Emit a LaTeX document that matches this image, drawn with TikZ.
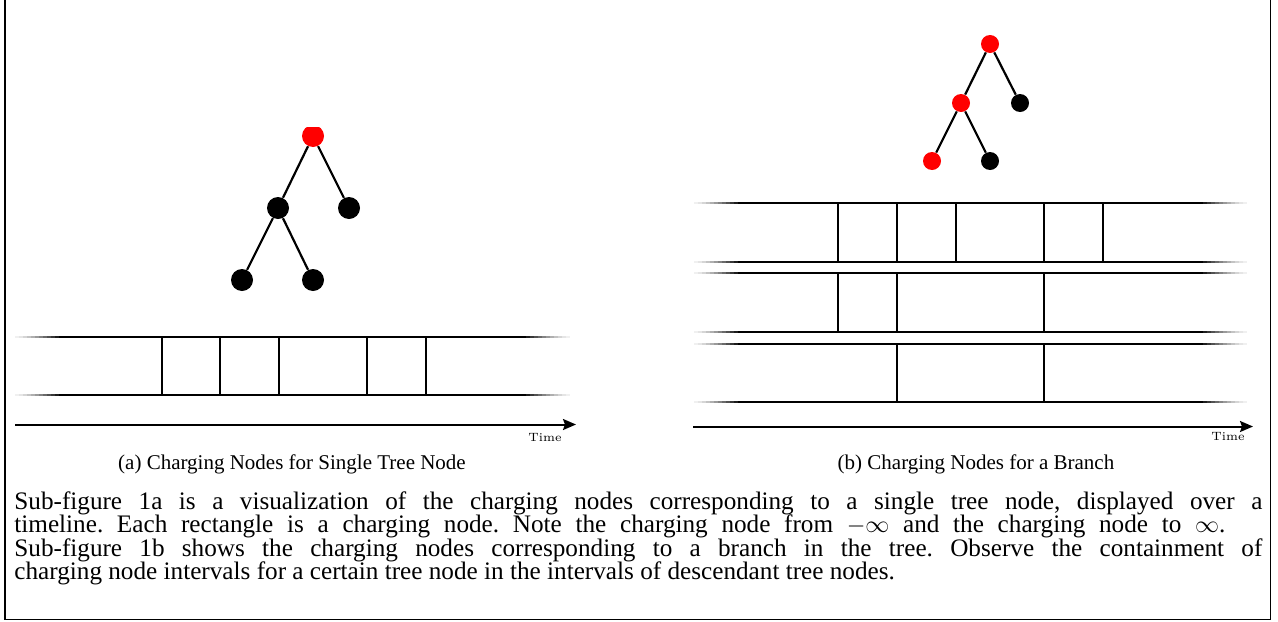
\documentclass[tikz,border=0pt]{standalone}
\usepackage{fontspec}
\setmainfont{Liberation Serif}
\newfontfamily\lmfont{Latin Modern Roman}
\usetikzlibrary{arrows.meta}
\newcommand\fadeline[3]{%
  \foreach \i in {0,...,11}{%
    \pgfmathsetmacro\pp{6+94*(\i/11)^1.3}%
    \draw[line width=1pt,draw=black!\pp] ({#1+4*\i},#3) -- ({#1+4*\i+4.4},#3);
    \draw[line width=1pt,draw=black!\pp] ({#2-4*\i},#3) -- ({#2-4*\i-4.4},#3);
  }%
  \draw[line width=1pt] ({#1+47.5},#3) -- ({#2-47.5},#3);}
\begin{document}
\begin{tikzpicture}[x=0.5pt,y=-0.5pt,
  tn/.style={circle,fill=black,inner sep=0pt,minimum size=11pt},
  tnsm/.style={circle,fill=black,inner sep=0pt,minimum size=9pt},
  edge/.style={line width=1.1pt,black},
  vbar/.style={line width=1pt,black},
  axis/.style={line width=1pt,black,-{Stealth[length=6.5pt,width=5.5pt,inset=1pt]}},
  timelbl/.style={font=\lmfont\fontsize{6}{7}\selectfont,inner sep=0pt,anchor=base},
  subcap/.style={font=\fontsize{10.5}{12}\selectfont,inner sep=0pt,anchor=base}]
\useasboundingbox (0,0) rectangle (1278,621);
% frame
\draw[line width=0.9pt] (5,-2) -- (5,619.5) -- (1270.5,619.5) -- (1270.5,-2);

% ---------- (a) ----------
\begin{scope}
\clip (0,127) rectangle (640,440);
\node[tn,fill=red] (a1) at (313,136) {};
\node[tn] (a2) at (278,208) {};
\node[tn] (a3) at (349,208) {};
\node[tn] (a4) at (242,280) {};
\node[tn] (a5) at (313,280) {};
\draw[edge] (a1) -- (a2);
\draw[edge] (a1) -- (a3);
\draw[edge] (a2) -- (a4);
\draw[edge] (a2) -- (a5);
\end{scope}
\fadeline{15}{570}{337}
\fadeline{15}{570}{395}
\foreach \x in {162,220,279,367,426} \draw[vbar] (\x,337) -- (\x,395);
\coordinate (ta0) at (15,424.5);
\coordinate (ta1) at (576,424.5);
\draw[axis] (ta0) -- (ta1);
\node[timelbl] (tla) at (545,441) {Time};
\node[subcap] (capa) at (292,469) {(a) Charging Nodes for Single Tree Node};

% ---------- (b) ----------
\node[tnsm,fill=red] (b1) at (990,44) {};
\node[tnsm,fill=red] (b2) at (961,103) {};
\node[tnsm] (b3) at (1020,103) {};
\node[tnsm,fill=red] (b4) at (932,161) {};
\node[tnsm] (b5) at (990,161) {};
\draw[edge] (b1) -- (b2);
\draw[edge] (b1) -- (b3);
\draw[edge] (b2) -- (b4);
\draw[edge] (b2) -- (b5);
\fadeline{694}{1247}{203}
\fadeline{694}{1247}{261.5}
\fadeline{694}{1247}{273}
\fadeline{694}{1247}{331.5}
\fadeline{694}{1247}{344}
\fadeline{694}{1247}{402}
\foreach \x in {838,897,956,1044,1103} \draw[vbar] (\x,203) -- (\x,261.5);
\foreach \x in {838,897,1044} \draw[vbar] (\x,273) -- (\x,331.5);
\foreach \x in {897,1044} \draw[vbar] (\x,344) -- (\x,402);
\coordinate (tb0) at (693,426.5);
\coordinate (tb1) at (1253,426.5);
\draw[axis] (tb0) -- (tb1);
\node[timelbl] (tlb) at (1228,440) {Time};
\node[subcap] (capb) at (976,469) {(b) Charging Nodes for a Branch};

% ---------- body text ----------
\node[anchor=north west,inner sep=0pt,text width=624pt,align=justify] (body) at (14,491)
{\fontsize{12.6}{11.8}\selectfont\frenchspacing\hyphenpenalty=10000
\parfillskip=18.5pt
Sub-figure 1a is a visualization of the charging nodes corresponding to a single tree node, displayed over a\linebreak
timeline. Each rectangle is a charging node. Note the charging node from $-\infty$ and the charging node to $\infty$.\par
\parfillskip=0pt plus 1fil
Sub-figure 1b shows the charging nodes corresponding to a branch in the tree. Observe the containment of\linebreak
charging node intervals for a certain tree node in the intervals of descendant tree nodes.\par};
\end{tikzpicture}
\end{document}
